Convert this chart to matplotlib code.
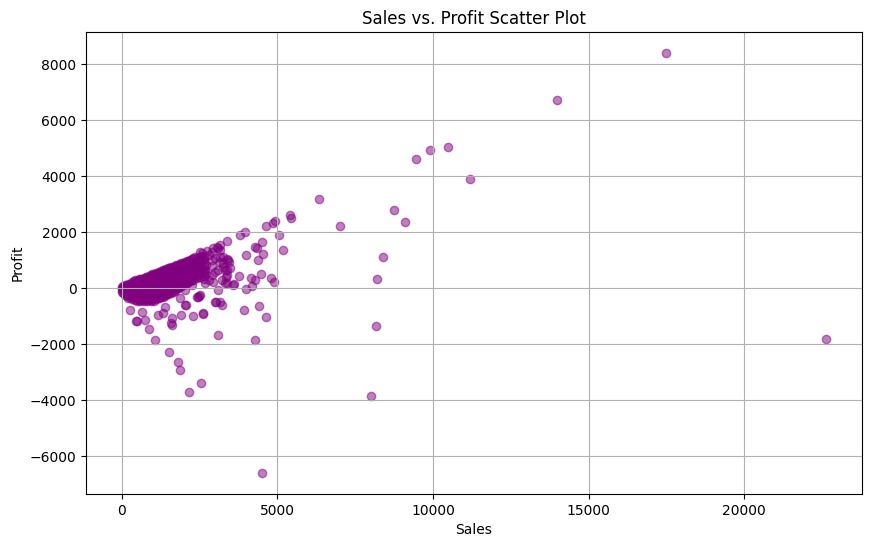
import matplotlib.pyplot as plt

# Sales / profit of the individual orders that stand out from the main cloud
outlier_sales = [
    22638, 17500, 14000, 11200, 10500, 9893, 9450, 9100, 8750, 8400,
    8188, 8160, 8000, 6355, 7000, 4500,
    5400, 5443, 4928, 4874, 4650, 5050, 5195, 4510, 4300, 4360,
    3997, 4550, 4391, 3970, 3804, 3396, 3781, 4167, 4480, 4790,
    4910, 4285, 4180, 4000, 4424, 3942, 4649, 4290, 3083, 3033,
    3108, 3215, 3161, 3055, 2950, 3429, 3269, 3161, 3483, 3322,
    3376, 3322, 3590, 2894, 2680, 2894, 3108, 3215, 2947, 2680,
    2412, 2252, 2037, 2359, 2573, 2735, 2519, 3161, 3269, 3376,
    3450, 3269, 3396, 3354, 3376, 3622, 3161,
    2550, 2178, 1890, 1800, 1525, 1089, 892, 464, 270, 486,
    753, 647, 1182, 1343, 1610, 1610, 1909, 2037, 1877, 2304,
    2626, 2412, 2519, 3001, 1395, 2605, 2487, 1578, 2070, 2465,
    2600, 2700, 2800, 2550, 2700, 2900, 3000, 2650, 2800, 3000,
    2550, 2900, 3100, 3150,
]
outlier_profit = [
    -1811, 8400, 6720, 3920, 5040, 4946, 4630, 2366, 2800, 1120,
    327, -1360, -3840, 3177, 2240, -6600,
    2616, 2502, 2400, 2330, 2217, 1900, 1369, 1650, 1480, 1450,
    1190, 1220, 1011, 2001, 1905, 1690, 440, 357, 505, 370,
    230, 300, 90, -36, -633, -776, -1030, -1860, -1665, -478,
    -61, -597, 1130, 1487, 1430, 1011, 893, 951, 715, 654,
    475, 179, 118, 1011, 654, 475, 654, 297, 236, 179,
    415, 118, -61, 1130, 1272, 1322, 1297, 1547, 1108, 1058,
    951, 751, 654, 415, 179, 143, -478,
    -3400, -3702, -2929, -2640, -2288, -1851, -1466, -1180, -776, -1158,
    -1133, -850, -954, -870, -1072, -1320, -954, -597, -357, -1000,
    -919, -300, -239, -490, -658, -894, -275, -1229, -597, -322,
    1000, 850, 1200, 750, 500, 800, 1100, 350, 300, 600,
    1150, 1300, 1450, 1380,
]

# The dense cloud of small orders near the origin
cloud_sales = (
    [0] * 4 + [110] * 4 + [220] * 5 + [330] * 6 + [440] * 7 + [550] * 7
    + [660] * 7 + [770] * 8 + [880] * 8 + [990] * 9 + [1100] * 9
    + [1210] * 9 + [1320] * 9 + [1430] * 9 + [1540] * 9 + [1650] * 9
    + [1760] * 8 + [1870] * 8 + [1980] * 8 + [2090] * 7 + [2200] * 7
    + [2310] * 7 + [2420] * 7 + [2530] * 7 + [2640] * 7
)
cloud_profit = [
    -120, -60, 0, 60,
    -240, -120, 0, 120,
    -330, -210, -90, 30, 150,
    -380, -260, -140, -20, 100, 220,
    -400, -280, -160, -40, 80, 200, 280,
    -400, -280, -160, -40, 80, 200, 320,
    -400, -280, -160, -40, 80, 200, 350,
    -400, -280, -160, -40, 80, 200, 320, 400,
    -400, -280, -160, -40, 80, 200, 320, 440,
    -400, -280, -160, -40, 80, 200, 320, 440, 500,
    -380, -260, -140, -20, 100, 220, 340, 460, 540,
    -340, -220, -100, 20, 140, 260, 380, 500, 590,
    -300, -180, -60, 60, 180, 300, 420, 540, 640,
    -250, -130, -10, 110, 230, 350, 470, 590, 690,
    -180, -60, 60, 180, 300, 420, 540, 660, 740,
    -120, 0, 120, 240, 360, 480, 600, 720, 780,
    -40, 80, 200, 320, 440, 560, 680, 820,
    40, 160, 280, 400, 520, 640, 760, 870,
    120, 240, 360, 480, 600, 720, 840, 920,
    200, 320, 440, 560, 680, 800, 970,
    250, 370, 490, 610, 730, 850, 1020,
    300, 420, 540, 660, 780, 900, 1070,
    360, 480, 600, 720, 840, 960, 1100,
    400, 520, 640, 760, 880, 1000, 1130,
    430, 550, 670, 790, 910, 1040, 1160,
]

# More orders packed between the ones above (cloud is solid colour)
cloud2_sales = (
    [55] * 3 + [165] * 4 + [275] * 5 + [385] * 6 + [495] * 7 + [605] * 8
    + [715] * 8 + [825] * 9 + [935] * 9 + [1045] * 9 + [1155] * 9
    + [1265] * 9 + [1375] * 9 + [1485] * 9 + [1595] * 9 + [1705] * 8
    + [1815] * 8 + [1925] * 8 + [2035] * 7 + [2145] * 7 + [2255] * 7
)
cloud2_profit = [
    -150, -30, 90,
    -270, -150, -30, 90,
    -320, -200, -80, 40, 160,
    -330, -210, -90, 30, 150, 250,
    -460, -340, -220, -100, 20, 140, 260,
    -460, -340, -220, -100, 20, 140, 260, 330,
    -460, -340, -220, -100, 20, 140, 260, 370,
    -460, -340, -220, -100, 20, 140, 260, 380, 420,
    -460, -340, -220, -100, 20, 140, 260, 380, 470,
    -440, -320, -200, -80, 40, 160, 280, 400, 520,
    -360, -240, -120, 0, 120, 240, 360, 480, 560,
    -320, -200, -80, 40, 160, 280, 400, 520, 610,
    -270, -150, -30, 90, 210, 330, 450, 570, 660,
    -210, -90, 30, 150, 270, 390, 510, 630, 710,
    -150, -30, 90, 210, 330, 450, 570, 690, 760,
    -80, 40, 160, 280, 400, 520, 640, 800,
    0, 120, 240, 360, 480, 600, 720, 840,
    80, 200, 320, 440, 560, 680, 800, 890,
    160, 280, 400, 520, 640, 760, 940,
    220, 340, 460, 580, 700, 820, 990,
    280, 400, 520, 640, 760, 880, 1040,
]

sales = cloud_sales + cloud2_sales + outlier_sales
profit = cloud_profit + cloud2_profit + outlier_profit

fig = plt.figure(figsize=(8.71, 5.47), dpi=100)
ax = fig.add_axes([86.3 / 871, 53 / 547, 775.4 / 871, 461.7 / 547])

ax.scatter(sales, profit, alpha=0.5, color='purple')
ax.set_title('Sales vs. Profit Scatter Plot')
ax.set_xlabel('Sales')
ax.set_ylabel('Profit')
ax.grid(True)

plt.savefig('out.png', dpi=100)
plt.close()
